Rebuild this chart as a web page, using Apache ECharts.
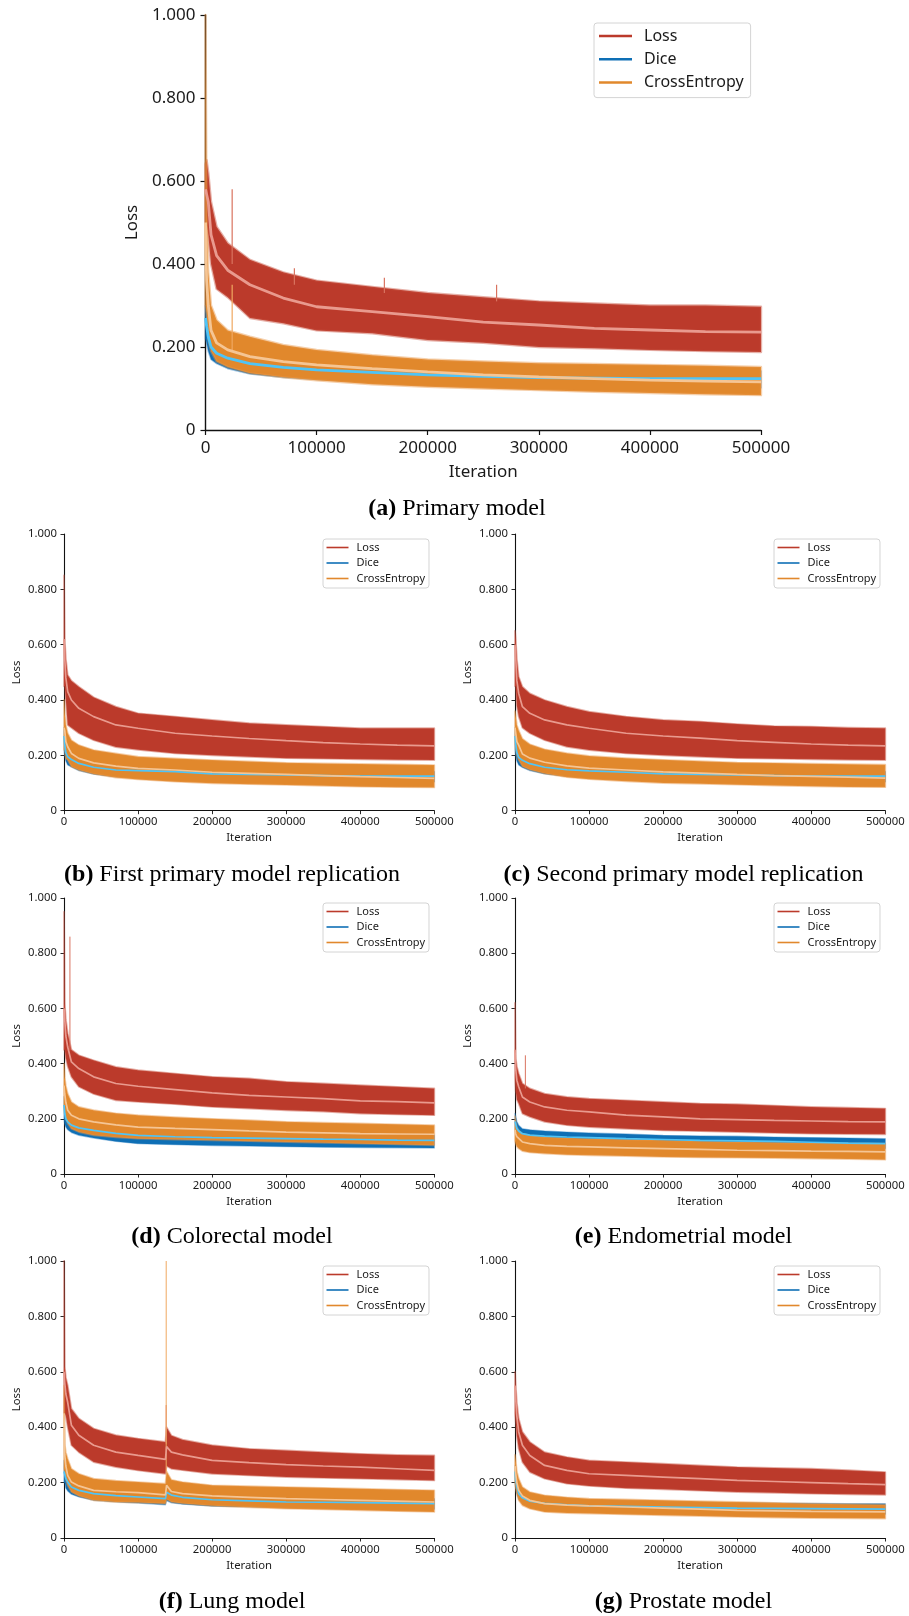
<!DOCTYPE html>
<html>
<head>
<meta charset="utf-8">
<script src="https://cdn.jsdelivr.net/npm/echarts@6/dist/echarts.min.js"></script>
<style>
  html, body { margin: 0; padding: 0; background: #fff; }
  #chart { width: 909px; height: 1616px; }
</style>
</head>
<body>
<div id="chart"></div>
<script>
// Sampled training iterations (x positions of the band envelopes)
const ITERATIONS = [0, 1000, 2500, 5000, 10000, 20000, 40000, 70000, 100000, 150000,
  200000, 250000, 300000, 350000, 400000, 450000, 500000];
const ITERATIONS_LUNG = [0, 1000, 2500, 5000, 10000, 20000, 40000, 70000, 100000, 137000,
  138500, 145000, 160000, 200000, 250000, 300000, 350000, 400000, 450000, 500000];

// Each row: [raw minimum, smoothed value, raw maximum]
const primaryLoss = [[0.50,0.58,0.64],[0.50,0.58,0.65],[0.47,0.55,0.62],[0.40,0.47,0.55],[0.34,0.42,0.49],[0.32,0.385,0.45],[0.27,0.35,0.41],[0.257,0.318,0.38],[0.24,0.297,0.36],[0.233,0.285,0.345],[0.217,0.273,0.33],[0.21,0.26,0.32],[0.20,0.253,0.31],[0.197,0.245,0.305],[0.193,0.241,0.30],[0.19,0.237,0.30],[0.188,0.236,0.297]];
const primaryDice = [[0.22,0.27,0.30],[0.21,0.25,0.29],[0.19,0.225,0.26],[0.17,0.20,0.23],[0.16,0.185,0.21],[0.148,0.173,0.195],[0.135,0.16,0.18],[0.127,0.151,0.17],[0.122,0.145,0.165],[0.116,0.139,0.158],[0.112,0.133,0.152],[0.108,0.129,0.148],[0.105,0.126,0.145],[0.104,0.125,0.144],[0.103,0.124,0.143],[0.102,0.124,0.142],[0.102,0.124,0.142]];
const primaryCE = [[0.30,0.50,1.0],[0.28,0.36,0.52],[0.22,0.30,0.38],[0.19,0.24,0.30],[0.165,0.21,0.265],[0.152,0.193,0.24],[0.137,0.177,0.225],[0.127,0.165,0.205],[0.12,0.157,0.193],[0.11,0.148,0.18],[0.104,0.14,0.17],[0.10,0.133,0.165],[0.096,0.128,0.161],[0.092,0.124,0.159],[0.089,0.12,0.157],[0.086,0.118,0.155],[0.084,0.116,0.152]];

const rep1Loss = [[0.45,0.62,0.85],[0.45,0.55,0.62],[0.40,0.48,0.55],[0.31,0.43,0.49],[0.30,0.40,0.47],[0.28,0.37,0.448],[0.255,0.34,0.41],[0.23,0.31,0.376],[0.22,0.298,0.352],[0.207,0.28,0.34],[0.20,0.27,0.328],[0.195,0.261,0.316],[0.19,0.253,0.31],[0.188,0.246,0.304],[0.186,0.241,0.298],[0.184,0.237,0.298],[0.183,0.234,0.298]];
const rep1Dice = [[0.22,0.27,0.30],[0.20,0.24,0.27],[0.18,0.21,0.24],[0.165,0.195,0.22],[0.158,0.185,0.205],[0.145,0.171,0.19],[0.132,0.157,0.175],[0.122,0.147,0.165],[0.12,0.145,0.162],[0.116,0.141,0.158],[0.11,0.133,0.15],[0.108,0.131,0.148],[0.106,0.129,0.146],[0.105,0.127,0.144],[0.104,0.125,0.143],[0.104,0.125,0.142],[0.104,0.125,0.142]];
const rep1CE = [[0.22,0.30,0.40],[0.22,0.29,0.35],[0.19,0.25,0.31],[0.183,0.231,0.28],[0.159,0.207,0.255],[0.147,0.189,0.237],[0.133,0.173,0.219],[0.12,0.161,0.207],[0.113,0.153,0.195],[0.105,0.147,0.189],[0.099,0.139,0.183],[0.096,0.135,0.178],[0.093,0.131,0.173],[0.09,0.127,0.171],[0.087,0.123,0.169],[0.085,0.12,0.167],[0.084,0.117,0.165]];

const rep2Loss = [[0.45,0.60,0.65],[0.45,0.55,0.62],[0.38,0.47,0.55],[0.34,0.424,0.484],[0.30,0.376,0.448],[0.28,0.352,0.424],[0.255,0.328,0.40],[0.231,0.31,0.376],[0.219,0.298,0.358],[0.207,0.28,0.34],[0.20,0.27,0.328],[0.195,0.262,0.322],[0.19,0.253,0.313],[0.188,0.247,0.306],[0.186,0.241,0.304],[0.184,0.237,0.30],[0.183,0.234,0.298]];
const rep2Dice = [[0.22,0.27,0.30],[0.20,0.24,0.27],[0.18,0.21,0.235],[0.165,0.193,0.215],[0.156,0.182,0.202],[0.145,0.17,0.19],[0.133,0.157,0.175],[0.124,0.148,0.166],[0.12,0.144,0.162],[0.115,0.139,0.156],[0.11,0.133,0.15],[0.108,0.131,0.148],[0.106,0.129,0.146],[0.105,0.127,0.144],[0.104,0.125,0.143],[0.104,0.125,0.142],[0.104,0.125,0.142]];
const rep2CE = [[0.24,0.30,0.36],[0.22,0.28,0.34],[0.20,0.25,0.31],[0.183,0.237,0.29],[0.16,0.205,0.26],[0.148,0.19,0.24],[0.134,0.175,0.222],[0.121,0.162,0.208],[0.114,0.154,0.198],[0.106,0.147,0.19],[0.10,0.14,0.184],[0.097,0.136,0.179],[0.094,0.131,0.174],[0.091,0.127,0.172],[0.088,0.124,0.17],[0.086,0.121,0.168],[0.085,0.118,0.166]];

const colorectalLoss = [[0.45,0.60,0.95],[0.45,0.56,0.62],[0.42,0.50,0.56],[0.39,0.46,0.51],[0.352,0.406,0.45],[0.316,0.382,0.43],[0.29,0.352,0.412],[0.267,0.328,0.388],[0.261,0.318,0.376],[0.253,0.306,0.364],[0.243,0.294,0.352],[0.237,0.285,0.346],[0.231,0.279,0.334],[0.226,0.273,0.328],[0.219,0.265,0.322],[0.216,0.262,0.316],[0.213,0.258,0.31]];
const colorectalDice = [[0.20,0.25,0.28],[0.18,0.22,0.25],[0.17,0.20,0.23],[0.16,0.189,0.21],[0.15,0.177,0.198],[0.14,0.167,0.188],[0.13,0.158,0.178],[0.118,0.147,0.166],[0.11,0.14,0.16],[0.106,0.135,0.154],[0.103,0.132,0.15],[0.101,0.13,0.148],[0.099,0.128,0.146],[0.097,0.126,0.144],[0.096,0.125,0.142],[0.095,0.123,0.14],[0.094,0.122,0.14]];
const colorectalCE = [[0.25,0.32,0.40],[0.22,0.29,0.35],[0.20,0.26,0.32],[0.183,0.231,0.291],[0.164,0.213,0.261],[0.152,0.20,0.243],[0.14,0.189,0.231],[0.133,0.178,0.22],[0.128,0.17,0.213],[0.125,0.165,0.206],[0.122,0.161,0.20],[0.119,0.156,0.195],[0.116,0.152,0.189],[0.113,0.149,0.186],[0.11,0.146,0.183],[0.107,0.145,0.18],[0.104,0.144,0.177]];

const endometrialLoss = [[0.35,0.45,0.62],[0.30,0.38,0.42],[0.27,0.34,0.39],[0.255,0.316,0.364],[0.219,0.279,0.328],[0.207,0.261,0.31],[0.189,0.243,0.291],[0.177,0.231,0.279],[0.17,0.225,0.273],[0.164,0.213,0.267],[0.158,0.207,0.261],[0.155,0.20,0.255],[0.152,0.197,0.253],[0.149,0.194,0.248],[0.146,0.192,0.243],[0.145,0.19,0.24],[0.144,0.189,0.237]];
const endometrialDice = [[0.16,0.19,0.22],[0.15,0.18,0.21],[0.14,0.165,0.19],[0.128,0.156,0.177],[0.122,0.146,0.164],[0.117,0.141,0.16],[0.112,0.137,0.156],[0.11,0.134,0.152],[0.108,0.132,0.149],[0.106,0.128,0.145],[0.104,0.125,0.14],[0.102,0.122,0.138],[0.10,0.12,0.137],[0.099,0.118,0.134],[0.098,0.115,0.132],[0.095,0.112,0.13],[0.092,0.11,0.128]];
const endometrialCE = [[0.12,0.16,0.21],[0.11,0.145,0.19],[0.10,0.135,0.17],[0.092,0.128,0.158],[0.083,0.116,0.146],[0.078,0.11,0.14],[0.074,0.104,0.134],[0.07,0.10,0.13],[0.068,0.098,0.128],[0.065,0.095,0.125],[0.062,0.092,0.122],[0.06,0.089,0.119],[0.059,0.086,0.116],[0.058,0.085,0.114],[0.056,0.083,0.112],[0.054,0.082,0.111],[0.052,0.08,0.11]];

const lungLoss = [[0.45,0.60,1.0],[0.45,0.56,0.62],[0.44,0.52,0.58],[0.40,0.49,0.551],[0.335,0.407,0.467],[0.31,0.371,0.431],[0.274,0.335,0.395],[0.256,0.31,0.371],[0.244,0.298,0.359],[0.232,0.284,0.347],[0.26,0.33,0.40],[0.25,0.31,0.37],[0.245,0.30,0.355],[0.232,0.28,0.335],[0.226,0.272,0.322],[0.22,0.265,0.316],[0.217,0.26,0.31],[0.214,0.256,0.304],[0.211,0.25,0.30],[0.208,0.244,0.298]];
const lungDice = [[0.20,0.24,0.28],[0.20,0.24,0.27],[0.18,0.215,0.24],[0.17,0.202,0.225],[0.158,0.184,0.205],[0.148,0.172,0.19],[0.136,0.16,0.178],[0.13,0.153,0.17],[0.126,0.148,0.165],[0.12,0.142,0.158],[0.135,0.165,0.19],[0.127,0.155,0.172],[0.122,0.147,0.165],[0.115,0.138,0.155],[0.112,0.134,0.15],[0.11,0.13,0.147],[0.108,0.129,0.146],[0.107,0.128,0.145],[0.105,0.126,0.144],[0.104,0.124,0.142]];
const lungCE = [[0.25,0.45,0.55],[0.24,0.30,0.34],[0.21,0.26,0.31],[0.19,0.226,0.286],[0.166,0.202,0.25],[0.152,0.188,0.232],[0.136,0.172,0.214],[0.13,0.167,0.207],[0.128,0.164,0.202],[0.124,0.156,0.196],[0.14,0.19,0.24],[0.13,0.168,0.21],[0.125,0.16,0.202],[0.116,0.152,0.19],[0.111,0.147,0.187],[0.106,0.142,0.184],[0.103,0.139,0.181],[0.10,0.136,0.178],[0.097,0.133,0.175],[0.094,0.13,0.172]];

const prostateLoss = [[0.45,0.55,0.60],[0.42,0.50,0.55],[0.37,0.44,0.49],[0.322,0.383,0.431],[0.274,0.335,0.383],[0.238,0.298,0.347],[0.214,0.262,0.31],[0.196,0.244,0.292],[0.188,0.232,0.28],[0.18,0.226,0.274],[0.176,0.22,0.268],[0.171,0.214,0.262],[0.166,0.208,0.256],[0.163,0.204,0.253],[0.16,0.20,0.25],[0.158,0.196,0.245],[0.156,0.193,0.238]];
const prostateDice = [[0.20,0.24,0.26],[0.18,0.21,0.24],[0.16,0.185,0.21],[0.14,0.16,0.185],[0.125,0.145,0.165],[0.112,0.133,0.152],[0.105,0.125,0.143],[0.10,0.12,0.138],[0.097,0.116,0.135],[0.095,0.114,0.133],[0.093,0.112,0.131],[0.091,0.11,0.129],[0.09,0.108,0.127],[0.089,0.107,0.126],[0.088,0.106,0.125],[0.087,0.105,0.124],[0.086,0.104,0.124]];
const prostateCE = [[0.20,0.26,0.30],[0.18,0.23,0.28],[0.16,0.20,0.24],[0.136,0.172,0.214],[0.118,0.152,0.184],[0.106,0.136,0.166],[0.094,0.124,0.154],[0.09,0.119,0.147],[0.088,0.116,0.142],[0.085,0.112,0.139],[0.082,0.108,0.136],[0.079,0.104,0.133],[0.076,0.10,0.13],[0.074,0.098,0.127],[0.072,0.096,0.124],[0.071,0.095,0.122],[0.07,0.094,0.12]];

// Isolated raw spikes: [iteration, from, to]
const primaryLossSpikes = [[24000,0.40,0.58],[80000,0.35,0.39],[161000,0.33,0.367],[262000,0.31,0.35]];
const primaryCESpikes = [[24000,0.19,0.35]];
const colorectalLossSpikes = [[8000,0.45,0.86]];
const endometrialLossSpikes = [[14000,0.31,0.43]];
const lungLossSpikes = [[138000,0.34,0.48]];
const lungCESpikes = [[138000,0.24,1.0]];

const CAPTIONS = [
  ['(a)', 'Primary model'],
  ['(b)', 'First primary model replication'],
  ['(c)', 'Second primary model replication'],
  ['(d)', 'Colorectal model'],
  ['(e)', 'Endometrial model'],
  ['(f)', 'Lung model'],
  ['(g)', 'Prostate model']
];
const LEGEND_NAMES = ['Loss', 'Dice', 'CrossEntropy'];

const COLORS = {
  Loss: { raw: '#bb3a2b', fringe: 'rgba(200,80,62,0.45)', smooth: '#e99a8e', spike: '#d9735f' },
  Dice: { raw: '#0e6fb5', fringe: 'rgba(30,120,190,0.4)', smooth: '#4fc4f6', spike: '#4fa7dc' },
  CrossEntropy: { raw: '#e1882c', fringe: 'rgba(232,150,70,0.45)', smooth: '#f5c594', spike: '#f0a860' }
};

// Panel layout: plot area, legend box, caption centre
const PANELS = [
  { iters: ITERATIONS, loss: primaryLoss, dice: primaryDice, ce: primaryCE,
    lossSpikes: primaryLossSpikes, ceSpikes: primaryCESpikes,
    grid: [205.5, 15, 555.5, 415], legend: [594, 23], cap: [457, 509], big: true },
  { iters: ITERATIONS, loss: rep1Loss, dice: rep1Dice, ce: rep1CE,
    grid: [64, 534, 370.3, 276.7], legend: [323, 539], cap: [232, 875] },
  { iters: ITERATIONS, loss: rep2Loss, dice: rep2Dice, ce: rep2CE,
    grid: [515, 534, 370.3, 276.7], legend: [774, 539], cap: [683.5, 875] },
  { iters: ITERATIONS, loss: colorectalLoss, dice: colorectalDice, ce: colorectalCE,
    lossSpikes: colorectalLossSpikes,
    grid: [64, 898, 370.3, 276], legend: [323, 903], cap: [232, 1237] },
  { iters: ITERATIONS, loss: endometrialLoss, dice: endometrialDice, ce: endometrialCE,
    lossSpikes: endometrialLossSpikes,
    grid: [515, 898, 370.3, 276], legend: [774, 903], cap: [683.5, 1237] },
  { iters: ITERATIONS_LUNG, loss: lungLoss, dice: lungDice, ce: lungCE,
    lossSpikes: lungLossSpikes, ceSpikes: lungCESpikes,
    grid: [64, 1261, 370.3, 277], legend: [323, 1266], cap: [232, 1602] },
  { iters: ITERATIONS, loss: prostateLoss, dice: prostateDice, ce: prostateCE,
    grid: [515, 1261, 370.3, 277], legend: [774, 1266], cap: [683.5, 1602] }
];

const SANS = '"Noto Sans", "DejaVu Sans", sans-serif';
const SERIF = '"Liberation Serif", "DejaVu Serif", serif';

// Filled envelope between the raw minimum and maximum, with a soft fringe
function bandSeries(gi, name, iters, rows, color, fringe, fringeWidth) {
  return {
    type: 'custom', name: name, xAxisIndex: gi, yAxisIndex: gi,
    itemStyle: { color: color }, silent: true, animation: false,
    data: [[250000, 0.5]],
    renderItem: function (params, api) {
      const top = iters.map((x, i) => api.coord([x, rows[i][2]]));
      const bot = iters.map((x, i) => api.coord([x, rows[i][0]])).reverse();
      return { type: 'polygon', shape: { points: top.concat(bot) },
        style: { fill: color, stroke: fringe, lineWidth: fringeWidth, lineJoin: 'round' } };
    }
  };
}

function spikeSeries(gi, spikes, color, width) {
  return {
    type: 'custom', name: 'spikes', xAxisIndex: gi, yAxisIndex: gi,
    silent: true, animation: false,
    data: spikes.map(s => [s[0], s[1], s[2]]),
    renderItem: function (params, api) {
      const a = api.coord([api.value(0), api.value(1)]);
      const b = api.coord([api.value(0), api.value(2)]);
      return { type: 'line', shape: { x1: a[0], y1: a[1], x2: b[0], y2: b[1] },
        style: { stroke: color, lineWidth: width } };
    }
  };
}

function smoothSeries(gi, name, iters, rows, color, width) {
  return {
    type: 'line', name: name, xAxisIndex: gi, yAxisIndex: gi,
    showSymbol: false, silent: true, animation: false,
    lineStyle: { color: color, width: width },
    data: iters.map((x, i) => [x, rows[i][1]])
  };
}

const grids = [], xAxes = [], yAxes = [], legends = [], series = [], graphics = [];

PANELS.forEach((p, gi) => {
  const big = !!p.big;
  const tickFont = big ? 17 : 11.3;
  grids.push({ left: p.grid[0], top: p.grid[1], width: p.grid[2], height: p.grid[3] });

  const axisLine = { lineStyle: { color: '#111', width: big ? 1.4 : 1.1 } };
  const axisTick = { length: big ? 5 : 3.5, lineStyle: { color: '#111', width: big ? 1.2 : 0.9 } };
  xAxes.push({
    type: 'value', gridIndex: gi, min: 0, max: 500000, interval: 100000,
    axisLine: axisLine, axisTick: axisTick, splitLine: { show: false },
    axisLabel: { fontSize: tickFont, fontFamily: SANS, color: '#1a1a1a', margin: big ? 10 : 6,
      formatter: v => String(v) },
    name: 'Iteration', nameLocation: 'middle', nameGap: big ? 34 : 22,
    nameTextStyle: { fontSize: tickFont, fontFamily: SANS, color: '#1a1a1a' }
  });
  yAxes.push({
    type: 'value', gridIndex: gi, min: 0, max: 1, interval: 0.2,
    axisLine: axisLine, axisTick: axisTick, splitLine: { show: false },
    axisLabel: { fontSize: tickFont, fontFamily: SANS, color: '#1a1a1a', margin: big ? 10 : 7,
      formatter: v => (v === 0 ? '0' : v.toFixed(3)) },
    name: 'Loss', nameLocation: 'middle', nameGap: big ? 64 : 42,
    nameTextStyle: { fontSize: tickFont, fontFamily: SANS, color: '#1a1a1a' }
  });

  const fw = big ? 2.4 : 1.8;
  // raw envelopes: Loss, Dice, CrossEntropy (CrossEntropy on top)
  series.push(bandSeries(gi, 'Loss', p.iters, p.loss, COLORS.Loss.raw, COLORS.Loss.fringe, fw));
  if (p.lossSpikes) series.push(spikeSeries(gi, p.lossSpikes, COLORS.Loss.spike, big ? 1.2 : 1));
  series.push(bandSeries(gi, 'Dice', p.iters, p.dice, COLORS.Dice.raw, COLORS.Dice.fringe, fw * 0.7));
  series.push(bandSeries(gi, 'CrossEntropy', p.iters, p.ce, COLORS.CrossEntropy.raw, COLORS.CrossEntropy.fringe, fw));
  if (p.ceSpikes) series.push(spikeSeries(gi, p.ceSpikes, COLORS.CrossEntropy.spike, big ? 1.2 : 1));
  // smoothed curves
  const sw = big ? 2.8 : 1.7;
  series.push(smoothSeries(gi, 'Loss smoothed', p.iters, p.loss, COLORS.Loss.smooth, sw));
  series.push(smoothSeries(gi, 'Dice smoothed', p.iters, p.dice, COLORS.Dice.smooth, sw));
  series.push(smoothSeries(gi, 'CrossEntropy smoothed', p.iters, p.ce, COLORS.CrossEntropy.smooth, sw));

  legends.push({
    orient: 'vertical', left: p.legend[0], top: p.legend[1],
    backgroundColor: '#fff', borderColor: '#d4d4d4', borderWidth: 1, borderRadius: 3,
    padding: big ? [5, 7, 7, 5] : [3, 4, 4, 3.5],
    itemGap: big ? 7.3 : 4.5, itemWidth: big ? 33 : 22, itemHeight: big ? 2.5 : 1.6,
    selectedMode: false,
    textStyle: { fontSize: big ? 16 : 11, fontFamily: SANS, color: '#1a1a1a', padding: [0, 0, 0, big ? 7 : 3] },
    data: LEGEND_NAMES.map(n => ({ name: n, icon: 'rect', itemStyle: { color: COLORS[n].raw } }))
  });

  graphics.push({
    type: 'text', x: p.cap[0], y: p.cap[1], silent: true,
    style: {
      text: '{b|' + CAPTIONS[gi][0] + '} ' + CAPTIONS[gi][1],
      fontSize: 24, fontFamily: SERIF, fill: '#000',
      align: 'center', verticalAlign: 'middle',
      rich: { b: { fontWeight: 'bold', fontSize: 24, fontFamily: SERIF, fill: '#000' } }
    }
  });
});

const chart = echarts.init(document.getElementById('chart'), null, { renderer: 'canvas' });
chart.setOption({
  backgroundColor: '#fff',
  animation: false,
  grid: grids,
  xAxis: xAxes,
  yAxis: yAxes,
  legend: legends,
  series: series,
  graphic: graphics
});
</script>
</body>
</html>
